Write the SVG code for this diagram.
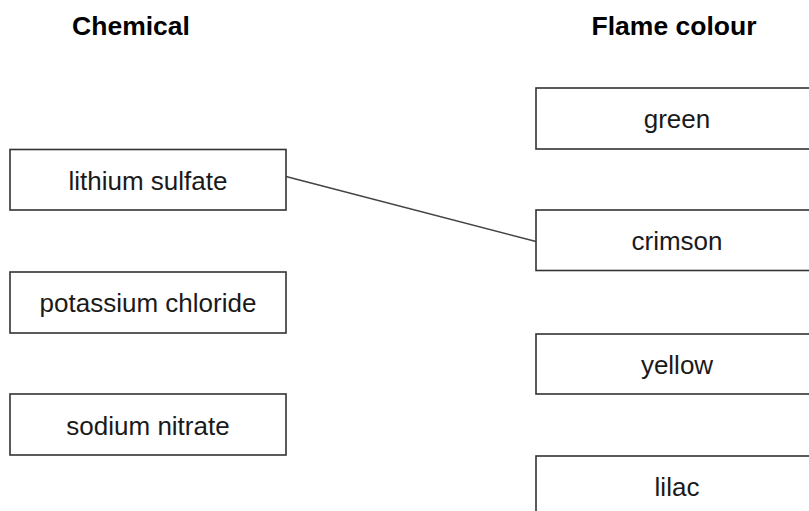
<svg xmlns="http://www.w3.org/2000/svg" width="809" height="511" viewBox="0 0 809 511">
<style>
  .box { fill: #fff; stroke: #333; stroke-width: 1.6; }
  .lbl { font-family: "Liberation Sans", Arial, sans-serif; font-size: 26px; fill: #1a1a1a; text-anchor: middle; }
  .hdr { font-family: "Liberation Sans", Arial, sans-serif; font-size: 26.5px; font-weight: bold; fill: #000; text-anchor: middle; }
  .conn { stroke: #444; stroke-width: 1.6; fill: none; }
</style>
<rect width="809" height="511" fill="#fff"/>
<text class="hdr" x="131" y="35">Chemical</text>
<text class="hdr" x="674" y="35">Flame colour</text>

<g id="connectors">
  <line class="conn" x1="286" y1="176.5" x2="536" y2="241.5"/>
</g>

<g id="lithium-sulfate">
  <rect class="box" x="10" y="149.5" width="276" height="60.5"/>
  <text class="lbl" x="148" y="189.5">lithium sulfate</text>
</g>
<g id="potassium-chloride">
  <rect class="box" x="10" y="272" width="276" height="61"/>
  <text class="lbl" x="148" y="311.5">potassium chloride</text>
</g>
<g id="sodium-nitrate">
  <rect class="box" x="10" y="394" width="276" height="61"/>
  <text class="lbl" x="148" y="434.5">sodium nitrate</text>
</g>

<g id="green">
  <rect class="box" x="536" y="88" width="282" height="61"/>
  <text class="lbl" x="677" y="128">green</text>
</g>
<g id="crimson">
  <rect class="box" x="536" y="210" width="282" height="60.5"/>
  <text class="lbl" x="677" y="250">crimson</text>
</g>
<g id="yellow">
  <rect class="box" x="536" y="334" width="282" height="60"/>
  <text class="lbl" x="677" y="373.5">yellow</text>
</g>
<g id="lilac">
  <rect class="box" x="536" y="456" width="282" height="61"/>
  <text class="lbl" x="677" y="495.5">lilac</text>
</g>
</svg>
